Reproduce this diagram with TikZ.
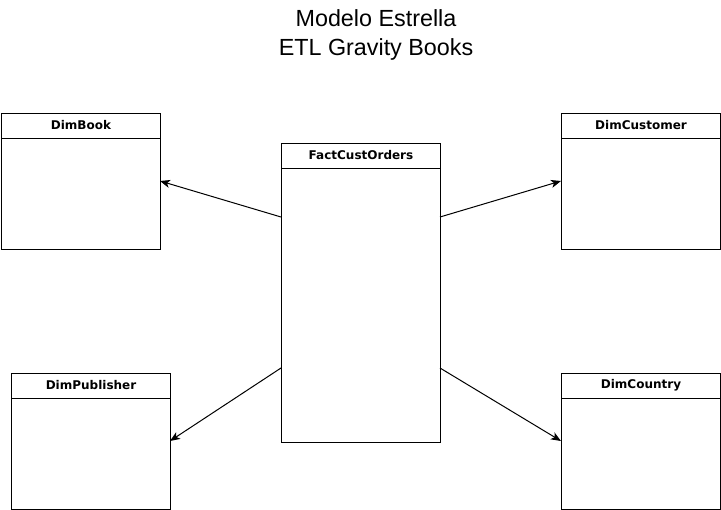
\documentclass[tikz,border=0pt]{standalone}
\usepackage{fontspec}
\setmainfont{Liberation Sans}
\newfontfamily\headfont{DejaVu Sans}
\usetikzlibrary{arrows.meta,calc}
\begin{document}
\begin{tikzpicture}[x=0.75pt,y=-0.75pt,
  tbl/.style={draw=black,line width=0.75pt,fill=white,minimum width=119.25pt,minimum height=102pt,inner sep=0pt,anchor=north west},
  facttbl/.style={tbl,minimum height=224.25pt},
  hdr/.style={font=\headfont\bfseries\fontsize{9pt}{11pt}\selectfont,anchor=center},
  conn/.style={line width=0.75pt,-{Stealth[length=7.5pt,width=6pt,inset=2pt]}}
]
\useasboundingbox (0,0) rectangle (721,510);
\node[align=center,font=\fontsize{17.5pt}{21.75pt}\selectfont] (title) at (376,35) {Modelo Estrella\\ETL Gravity Books};

% tables
\node[tbl] (book) at (1,112.5) {};
\node[tbl] (cust) at (561,112.5) {};
\node[tbl] (pub) at (11,372.5) {};
\node[tbl] (ctry) at (561,372.5) {};
\node[facttbl] (fact) at (281,142.5) {};

\foreach \t/\n in {book/DimBook,cust/DimCustomer,pub/DimPublisher,ctry/DimCountry,fact/FactCustOrders}{
  \draw[line width=0.75pt] ($(\t.north west)+(0,26)$) -- ($(\t.north east)+(0,26)$);
  \node[hdr] (\t-h) at ($(\t.north)+(0,13)$) {\n};
}

% connector endpoints
\coordinate (f1) at (281,217);
\coordinate (f2) at (440,217);
\coordinate (f3) at (281,368);
\coordinate (f4) at (440,368);
\coordinate (b1) at (160,181);
\coordinate (c1) at (561,181);
\coordinate (p1) at (170,441);
\coordinate (d1) at (561,441);

\draw[conn] (f1) -- (b1);
\draw[conn] (f2) -- (c1);
\draw[conn] (f3) -- (p1);
\draw[conn] (f4) -- (d1);
\end{tikzpicture}
\end{document}
